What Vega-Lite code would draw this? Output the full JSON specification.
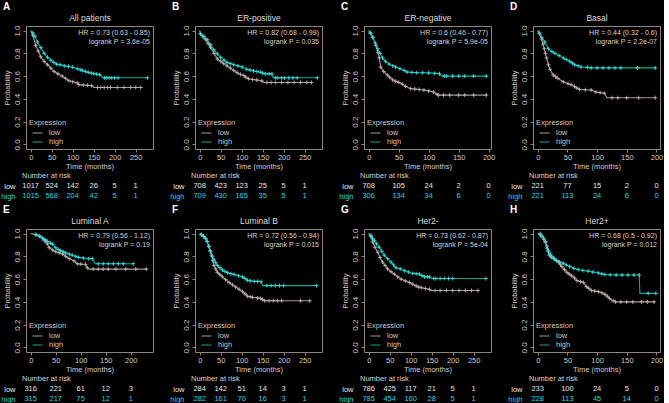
{
  "$schema": "https://vega.github.io/schema/vega-lite/v6.json",
  "background": "#000000",
  "padding": {"left": 0, "top": 1, "right": 0, "bottom": 0},
  "config": {
    "font": "Liberation Sans",
    "view": {"stroke": "#8f8580", "strokeWidth": 1},
    "axis": {"grid": false, "domain": false, "labelColor": "#cfc7c3", "titleColor": "#d4ccc8", "tickColor": "#8f8580", "labelFontSize": 7.5, "titleFontSize": 7.5, "titleFontWeight": "normal", "tickSize": 3, "labelOverlap": false, "labelFlush": false},
    "legend": {"titleFontSize": 7.5, "titleFontWeight": "normal", "titleColor": "#cdc5c1", "labelFontSize": 7.5, "labelColor": "#cdc5c1", "symbolSize": 100, "symbolStrokeWidth": 1, "rowPadding": -3, "titlePadding": 1, "offset": 3, "padding": 0, "labelOffset": 6, "symbolOffset": 3},
    "title": {"color": "#ffffff", "fontSize": 10, "fontWeight": "bold", "anchor": "start", "frame": "bounds", "offset": 1}
  },
  "datasets": {
    "stats": [
      {"p": "A", "stat": "HR = 0.73 (0.63 - 0.85)\nlogrank P = 3.6e-05"},
      {"p": "B", "stat": "HR = 0.82 (0.68 - 0.99)\nlogrank P = 0.035"},
      {"p": "C", "stat": "HR = 0.6 (0.46 - 0.77)\nlogrank P = 5.9e-05"},
      {"p": "D", "stat": "HR = 0.44 (0.32 - 0.6)\nlogrank P = 2.2e-07"},
      {"p": "E", "stat": "HR = 0.79 (0.56 - 1.12)\nlogrank P = 0.19"},
      {"p": "F", "stat": "HR = 0.72 (0.56 - 0.94)\nlogrank P = 0.015"},
      {"p": "G", "stat": "HR = 0.73 (0.62 - 0.87)\nlogrank P = 5e-04"},
      {"p": "H", "stat": "HR = 0.68 (0.5 - 0.92)\nlogrank P = 0.012"}
    ],
    "risk": [
      {"p": "A", "g": "low", "t": 0, "n": 1017}, {"p": "A", "g": "low", "t": 50, "n": 524}, {"p": "A", "g": "low", "t": 100, "n": 142}, {"p": "A", "g": "low", "t": 150, "n": 26}, {"p": "A", "g": "low", "t": 200, "n": 5}, {"p": "A", "g": "low", "t": 250, "n": 1},
      {"p": "A", "g": "high", "t": 0, "n": 1015}, {"p": "A", "g": "high", "t": 50, "n": 568}, {"p": "A", "g": "high", "t": 100, "n": 204}, {"p": "A", "g": "high", "t": 150, "n": 42}, {"p": "A", "g": "high", "t": 200, "n": 5}, {"p": "A", "g": "high", "t": 250, "n": 1},
      {"p": "B", "g": "low", "t": 0, "n": 708}, {"p": "B", "g": "low", "t": 50, "n": 423}, {"p": "B", "g": "low", "t": 100, "n": 123}, {"p": "B", "g": "low", "t": 150, "n": 25}, {"p": "B", "g": "low", "t": 200, "n": 5}, {"p": "B", "g": "low", "t": 250, "n": 1},
      {"p": "B", "g": "high", "t": 0, "n": 709}, {"p": "B", "g": "high", "t": 50, "n": 430}, {"p": "B", "g": "high", "t": 100, "n": 165}, {"p": "B", "g": "high", "t": 150, "n": 35}, {"p": "B", "g": "high", "t": 200, "n": 5}, {"p": "B", "g": "high", "t": 250, "n": 1},
      {"p": "C", "g": "low", "t": 0, "n": 708}, {"p": "C", "g": "low", "t": 50, "n": 105}, {"p": "C", "g": "low", "t": 100, "n": 24}, {"p": "C", "g": "low", "t": 150, "n": 2}, {"p": "C", "g": "low", "t": 200, "n": 0},
      {"p": "C", "g": "high", "t": 0, "n": 306}, {"p": "C", "g": "high", "t": 50, "n": 134}, {"p": "C", "g": "high", "t": 100, "n": 34}, {"p": "C", "g": "high", "t": 150, "n": 6}, {"p": "C", "g": "high", "t": 200, "n": 0},
      {"p": "D", "g": "low", "t": 0, "n": 221}, {"p": "D", "g": "low", "t": 50, "n": 77}, {"p": "D", "g": "low", "t": 100, "n": 15}, {"p": "D", "g": "low", "t": 150, "n": 2}, {"p": "D", "g": "low", "t": 200, "n": 0},
      {"p": "D", "g": "high", "t": 0, "n": 221}, {"p": "D", "g": "high", "t": 50, "n": 113}, {"p": "D", "g": "high", "t": 100, "n": 24}, {"p": "D", "g": "high", "t": 150, "n": 6}, {"p": "D", "g": "high", "t": 200, "n": 0},
      {"p": "E", "g": "low", "t": 0, "n": 316}, {"p": "E", "g": "low", "t": 50, "n": 221}, {"p": "E", "g": "low", "t": 100, "n": 61}, {"p": "E", "g": "low", "t": 150, "n": 12}, {"p": "E", "g": "low", "t": 200, "n": 3},
      {"p": "E", "g": "high", "t": 0, "n": 315}, {"p": "E", "g": "high", "t": 50, "n": 217}, {"p": "E", "g": "high", "t": 100, "n": 75}, {"p": "E", "g": "high", "t": 150, "n": 12}, {"p": "E", "g": "high", "t": 200, "n": 1},
      {"p": "F", "g": "low", "t": 0, "n": 284}, {"p": "F", "g": "low", "t": 50, "n": 142}, {"p": "F", "g": "low", "t": 100, "n": 51}, {"p": "F", "g": "low", "t": 150, "n": 14}, {"p": "F", "g": "low", "t": 200, "n": 3}, {"p": "F", "g": "low", "t": 250, "n": 1},
      {"p": "F", "g": "high", "t": 0, "n": 282}, {"p": "F", "g": "high", "t": 50, "n": 161}, {"p": "F", "g": "high", "t": 100, "n": 70}, {"p": "F", "g": "high", "t": 150, "n": 16}, {"p": "F", "g": "high", "t": 200, "n": 3}, {"p": "F", "g": "high", "t": 250, "n": 1},
      {"p": "G", "g": "low", "t": 0, "n": 786}, {"p": "G", "g": "low", "t": 50, "n": 425}, {"p": "G", "g": "low", "t": 100, "n": 117}, {"p": "G", "g": "low", "t": 150, "n": 21}, {"p": "G", "g": "low", "t": 200, "n": 5}, {"p": "G", "g": "low", "t": 250, "n": 1},
      {"p": "G", "g": "high", "t": 0, "n": 785}, {"p": "G", "g": "high", "t": 50, "n": 454}, {"p": "G", "g": "high", "t": 100, "n": 160}, {"p": "G", "g": "high", "t": 150, "n": 28}, {"p": "G", "g": "high", "t": 200, "n": 5}, {"p": "G", "g": "high", "t": 250, "n": 1},
      {"p": "H", "g": "low", "t": 0, "n": 233}, {"p": "H", "g": "low", "t": 50, "n": 100}, {"p": "H", "g": "low", "t": 100, "n": 24}, {"p": "H", "g": "low", "t": 150, "n": 5}, {"p": "H", "g": "low", "t": 200, "n": 0},
      {"p": "H", "g": "high", "t": 0, "n": 228}, {"p": "H", "g": "high", "t": 50, "n": 113}, {"p": "H", "g": "high", "t": 100, "n": 45}, {"p": "H", "g": "high", "t": 150, "n": 14}, {"p": "H", "g": "high", "t": 200, "n": 0}
    ],
    "km": [
      {"p":"A","g":"low","t":0,"s":1,"c":0},{"p":"A","g":"low","t":5,"s":0.96,"c":1},{"p":"A","g":"low","t":12,"s":0.87,"c":1},{"p":"A","g":"low","t":18,"s":0.82,"c":1},{"p":"A","g":"low","t":24,"s":0.77,"c":1},{"p":"A","g":"low","t":32,"s":0.73,"c":1},{"p":"A","g":"low","t":40,"s":0.7,"c":1},{"p":"A","g":"low","t":48,"s":0.67,"c":1},{"p":"A","g":"low","t":56,"s":0.64,"c":1},{"p":"A","g":"low","t":65,"s":0.62,"c":1},{"p":"A","g":"low","t":75,"s":0.6,"c":1},{"p":"A","g":"low","t":83,"s":0.58,"c":1},{"p":"A","g":"low","t":91,"s":0.56,"c":1},{"p":"A","g":"low","t":100,"s":0.55,"c":1},{"p":"A","g":"low","t":111,"s":0.54,"c":1},{"p":"A","g":"low","t":115,"s":0.525,"c":1},{"p":"A","g":"low","t":125,"s":0.522,"c":1},{"p":"A","g":"low","t":135,"s":0.52,"c":1},{"p":"A","g":"low","t":145,"s":0.516,"c":1},{"p":"A","g":"low","t":150,"s":0.5,"c":0},{"p":"A","g":"low","t":159,"s":0.5,"c":1},{"p":"A","g":"low","t":167,"s":0.5,"c":1},{"p":"A","g":"low","t":175,"s":0.5,"c":1},{"p":"A","g":"low","t":183,"s":0.5,"c":1},{"p":"A","g":"low","t":190,"s":0.5,"c":1},{"p":"A","g":"low","t":206,"s":0.5,"c":1},{"p":"A","g":"low","t":222,"s":0.5,"c":1},{"p":"A","g":"low","t":238,"s":0.5,"c":1},{"p":"A","g":"low","t":250,"s":0.5,"c":1},{"p":"A","g":"low","t":262,"s":0.5,"c":1},
      {"p":"A","g":"high","t":0,"s":1,"c":0},{"p":"A","g":"high","t":5,"s":0.98,"c":1},{"p":"A","g":"high","t":10,"s":0.95,"c":1},{"p":"A","g":"high","t":16,"s":0.9,"c":1},{"p":"A","g":"high","t":24,"s":0.85,"c":1},{"p":"A","g":"high","t":32,"s":0.8,"c":1},{"p":"A","g":"high","t":40,"s":0.765,"c":1},{"p":"A","g":"high","t":48,"s":0.74,"c":1},{"p":"A","g":"high","t":55,"s":0.72,"c":1},{"p":"A","g":"high","t":62,"s":0.705,"c":1},{"p":"A","g":"high","t":70,"s":0.7,"c":1},{"p":"A","g":"high","t":80,"s":0.69,"c":1},{"p":"A","g":"high","t":90,"s":0.685,"c":1},{"p":"A","g":"high","t":100,"s":0.678,"c":1},{"p":"A","g":"high","t":111,"s":0.665,"c":1},{"p":"A","g":"high","t":118,"s":0.655,"c":1},{"p":"A","g":"high","t":123,"s":0.65,"c":1},{"p":"A","g":"high","t":130,"s":0.64,"c":1},{"p":"A","g":"high","t":137,"s":0.633,"c":1},{"p":"A","g":"high","t":144,"s":0.627,"c":1},{"p":"A","g":"high","t":150,"s":0.622,"c":1},{"p":"A","g":"high","t":157,"s":0.618,"c":1},{"p":"A","g":"high","t":164,"s":0.612,"c":1},{"p":"A","g":"high","t":170,"s":0.6,"c":0},{"p":"A","g":"high","t":171,"s":0.585,"c":0},{"p":"A","g":"high","t":176,"s":0.585,"c":1},{"p":"A","g":"high","t":181,"s":0.585,"c":1},{"p":"A","g":"high","t":187,"s":0.585,"c":1},{"p":"A","g":"high","t":193,"s":0.585,"c":1},{"p":"A","g":"high","t":200,"s":0.585,"c":1},{"p":"A","g":"high","t":208,"s":0.585,"c":1},{"p":"A","g":"high","t":278,"s":0.585,"c":1},

      {"p":"B","g":"low","t":0,"s":1,"c":0},{"p":"B","g":"low","t":2,"s":0.97,"c":1},{"p":"B","g":"low","t":8,"s":0.945,"c":1},{"p":"B","g":"low","t":14,"s":0.92,"c":1},{"p":"B","g":"low","t":20,"s":0.885,"c":1},{"p":"B","g":"low","t":26,"s":0.85,"c":1},{"p":"B","g":"low","t":34,"s":0.8,"c":1},{"p":"B","g":"low","t":42,"s":0.75,"c":1},{"p":"B","g":"low","t":50,"s":0.73,"c":1},{"p":"B","g":"low","t":57,"s":0.71,"c":1},{"p":"B","g":"low","t":65,"s":0.69,"c":1},{"p":"B","g":"low","t":73,"s":0.67,"c":1},{"p":"B","g":"low","t":81,"s":0.65,"c":1},{"p":"B","g":"low","t":89,"s":0.63,"c":1},{"p":"B","g":"low","t":97,"s":0.615,"c":1},{"p":"B","g":"low","t":105,"s":0.605,"c":1},{"p":"B","g":"low","t":110,"s":0.59,"c":1},{"p":"B","g":"low","t":116,"s":0.577,"c":1},{"p":"B","g":"low","t":126,"s":0.57,"c":1},{"p":"B","g":"low","t":136,"s":0.566,"c":1},{"p":"B","g":"low","t":148,"s":0.558,"c":1},{"p":"B","g":"low","t":152,"s":0.544,"c":0},{"p":"B","g":"low","t":160,"s":0.544,"c":1},{"p":"B","g":"low","t":170,"s":0.544,"c":1},{"p":"B","g":"low","t":180,"s":0.544,"c":1},{"p":"B","g":"low","t":195,"s":0.544,"c":1},{"p":"B","g":"low","t":210,"s":0.544,"c":1},{"p":"B","g":"low","t":225,"s":0.544,"c":1},{"p":"B","g":"low","t":240,"s":0.544,"c":1},{"p":"B","g":"low","t":255,"s":0.544,"c":1},{"p":"B","g":"low","t":266,"s":0.544,"c":1},
      {"p":"B","g":"high","t":0,"s":1,"c":0},{"p":"B","g":"high","t":2,"s":0.97,"c":1},{"p":"B","g":"high","t":10,"s":0.95,"c":1},{"p":"B","g":"high","t":18,"s":0.92,"c":1},{"p":"B","g":"high","t":26,"s":0.875,"c":1},{"p":"B","g":"high","t":34,"s":0.83,"c":1},{"p":"B","g":"high","t":42,"s":0.795,"c":1},{"p":"B","g":"high","t":50,"s":0.765,"c":1},{"p":"B","g":"high","t":58,"s":0.74,"c":1},{"p":"B","g":"high","t":65,"s":0.72,"c":1},{"p":"B","g":"high","t":73,"s":0.71,"c":1},{"p":"B","g":"high","t":81,"s":0.7,"c":1},{"p":"B","g":"high","t":91,"s":0.69,"c":1},{"p":"B","g":"high","t":101,"s":0.68,"c":1},{"p":"B","g":"high","t":112,"s":0.66,"c":1},{"p":"B","g":"high","t":120,"s":0.653,"c":1},{"p":"B","g":"high","t":128,"s":0.646,"c":1},{"p":"B","g":"high","t":136,"s":0.64,"c":1},{"p":"B","g":"high","t":144,"s":0.635,"c":1},{"p":"B","g":"high","t":150,"s":0.628,"c":1},{"p":"B","g":"high","t":156,"s":0.62,"c":1},{"p":"B","g":"high","t":165,"s":0.62,"c":1},{"p":"B","g":"high","t":172,"s":0.62,"c":1},{"p":"B","g":"high","t":175,"s":0.585,"c":0},{"p":"B","g":"high","t":180,"s":0.585,"c":1},{"p":"B","g":"high","t":186,"s":0.585,"c":1},{"p":"B","g":"high","t":195,"s":0.585,"c":1},{"p":"B","g":"high","t":202,"s":0.585,"c":1},{"p":"B","g":"high","t":212,"s":0.585,"c":1},{"p":"B","g":"high","t":222,"s":0.585,"c":1},{"p":"B","g":"high","t":232,"s":0.585,"c":1},{"p":"B","g":"high","t":280,"s":0.585,"c":1},

      {"p":"C","g":"low","t":0,"s":1,"c":0},{"p":"C","g":"low","t":3,"s":0.975,"c":1},{"p":"C","g":"low","t":7,"s":0.94,"c":1},{"p":"C","g":"low","t":12,"s":0.87,"c":1},{"p":"C","g":"low","t":15,"s":0.81,"c":1},{"p":"C","g":"low","t":17.6,"s":0.76,"c":1},{"p":"C","g":"low","t":20,"s":0.68,"c":1},{"p":"C","g":"low","t":25,"s":0.64,"c":1},{"p":"C","g":"low","t":31,"s":0.61,"c":1},{"p":"C","g":"low","t":35,"s":0.59,"c":1},{"p":"C","g":"low","t":40,"s":0.567,"c":1},{"p":"C","g":"low","t":45,"s":0.555,"c":1},{"p":"C","g":"low","t":50,"s":0.545,"c":1},{"p":"C","g":"low","t":56,"s":0.53,"c":1},{"p":"C","g":"low","t":61.5,"s":0.51,"c":1},{"p":"C","g":"low","t":70,"s":0.49,"c":1},{"p":"C","g":"low","t":77,"s":0.487,"c":1},{"p":"C","g":"low","t":84,"s":0.483,"c":1},{"p":"C","g":"low","t":92,"s":0.478,"c":1},{"p":"C","g":"low","t":100,"s":0.47,"c":1},{"p":"C","g":"low","t":108,"s":0.46,"c":1},{"p":"C","g":"low","t":114,"s":0.44,"c":1},{"p":"C","g":"low","t":116.5,"s":0.433,"c":1},{"p":"C","g":"low","t":125,"s":0.433,"c":1},{"p":"C","g":"low","t":135,"s":0.433,"c":1},{"p":"C","g":"low","t":150,"s":0.433,"c":1},{"p":"C","g":"low","t":160,"s":0.433,"c":1},{"p":"C","g":"low","t":175,"s":0.433,"c":1},{"p":"C","g":"low","t":196,"s":0.433,"c":1},
      {"p":"C","g":"high","t":0,"s":1,"c":0},{"p":"C","g":"high","t":3,"s":0.98,"c":1},{"p":"C","g":"high","t":6.6,"s":0.94,"c":1},{"p":"C","g":"high","t":11,"s":0.89,"c":1},{"p":"C","g":"high","t":15,"s":0.84,"c":1},{"p":"C","g":"high","t":19,"s":0.8,"c":1},{"p":"C","g":"high","t":23,"s":0.76,"c":1},{"p":"C","g":"high","t":28,"s":0.73,"c":1},{"p":"C","g":"high","t":34,"s":0.705,"c":1},{"p":"C","g":"high","t":40,"s":0.69,"c":1},{"p":"C","g":"high","t":45,"s":0.68,"c":1},{"p":"C","g":"high","t":52,"s":0.665,"c":1},{"p":"C","g":"high","t":59,"s":0.65,"c":1},{"p":"C","g":"high","t":64,"s":0.636,"c":1},{"p":"C","g":"high","t":72,"s":0.633,"c":1},{"p":"C","g":"high","t":80,"s":0.63,"c":1},{"p":"C","g":"high","t":90,"s":0.63,"c":1},{"p":"C","g":"high","t":100,"s":0.628,"c":1},{"p":"C","g":"high","t":110,"s":0.625,"c":1},{"p":"C","g":"high","t":118,"s":0.62,"c":1},{"p":"C","g":"high","t":122,"s":0.6,"c":0},{"p":"C","g":"high","t":126,"s":0.6,"c":1},{"p":"C","g":"high","t":130,"s":0.6,"c":1},{"p":"C","g":"high","t":140,"s":0.6,"c":1},{"p":"C","g":"high","t":150,"s":0.6,"c":1},{"p":"C","g":"high","t":160,"s":0.6,"c":1},{"p":"C","g":"high","t":175,"s":0.6,"c":1},{"p":"C","g":"high","t":196,"s":0.6,"c":1},

      {"p":"D","g":"low","t":0,"s":1,"c":0},{"p":"D","g":"low","t":3,"s":0.97,"c":1},{"p":"D","g":"low","t":6.7,"s":0.925,"c":1},{"p":"D","g":"low","t":9,"s":0.88,"c":1},{"p":"D","g":"low","t":11,"s":0.84,"c":1},{"p":"D","g":"low","t":13,"s":0.8,"c":1},{"p":"D","g":"low","t":15,"s":0.76,"c":1},{"p":"D","g":"low","t":18,"s":0.7,"c":1},{"p":"D","g":"low","t":20.6,"s":0.66,"c":1},{"p":"D","g":"low","t":26,"s":0.61,"c":1},{"p":"D","g":"low","t":30,"s":0.595,"c":1},{"p":"D","g":"low","t":34,"s":0.58,"c":1},{"p":"D","g":"low","t":43,"s":0.55,"c":1},{"p":"D","g":"low","t":51,"s":0.533,"c":1},{"p":"D","g":"low","t":56,"s":0.525,"c":1},{"p":"D","g":"low","t":62,"s":0.51,"c":1},{"p":"D","g":"low","t":66,"s":0.495,"c":1},{"p":"D","g":"low","t":70.5,"s":0.483,"c":1},{"p":"D","g":"low","t":80,"s":0.48,"c":1},{"p":"D","g":"low","t":90,"s":0.478,"c":1},{"p":"D","g":"low","t":98,"s":0.46,"c":1},{"p":"D","g":"low","t":105,"s":0.455,"c":1},{"p":"D","g":"low","t":112,"s":0.45,"c":1},{"p":"D","g":"low","t":117,"s":0.41,"c":0},{"p":"D","g":"low","t":125,"s":0.41,"c":1},{"p":"D","g":"low","t":135,"s":0.41,"c":1},{"p":"D","g":"low","t":150,"s":0.41,"c":1},{"p":"D","g":"low","t":170,"s":0.41,"c":1},{"p":"D","g":"low","t":198,"s":0.41,"c":1},
      {"p":"D","g":"high","t":0,"s":1,"c":0},{"p":"D","g":"high","t":3,"s":0.98,"c":1},{"p":"D","g":"high","t":6.7,"s":0.94,"c":1},{"p":"D","g":"high","t":12,"s":0.9,"c":1},{"p":"D","g":"high","t":18,"s":0.84,"c":1},{"p":"D","g":"high","t":24,"s":0.815,"c":1},{"p":"D","g":"high","t":29,"s":0.8,"c":1},{"p":"D","g":"high","t":36,"s":0.78,"c":1},{"p":"D","g":"high","t":43,"s":0.76,"c":1},{"p":"D","g":"high","t":48,"s":0.745,"c":1},{"p":"D","g":"high","t":54,"s":0.73,"c":1},{"p":"D","g":"high","t":58,"s":0.715,"c":1},{"p":"D","g":"high","t":62,"s":0.7,"c":1},{"p":"D","g":"high","t":68,"s":0.69,"c":1},{"p":"D","g":"high","t":73,"s":0.68,"c":1},{"p":"D","g":"high","t":84,"s":0.677,"c":1},{"p":"D","g":"high","t":90,"s":0.672,"c":1},{"p":"D","g":"high","t":100,"s":0.672,"c":1},{"p":"D","g":"high","t":110,"s":0.672,"c":1},{"p":"D","g":"high","t":120,"s":0.672,"c":1},{"p":"D","g":"high","t":130,"s":0.672,"c":1},{"p":"D","g":"high","t":140,"s":0.672,"c":1},{"p":"D","g":"high","t":168,"s":0.672,"c":1},{"p":"D","g":"high","t":198,"s":0.672,"c":1},

      {"p":"E","g":"low","t":0,"s":1,"c":0},{"p":"E","g":"low","t":10,"s":0.99,"c":1},{"p":"E","g":"low","t":18,"s":0.98,"c":1},{"p":"E","g":"low","t":24,"s":0.955,"c":1},{"p":"E","g":"low","t":28,"s":0.935,"c":1},{"p":"E","g":"low","t":33,"s":0.91,"c":1},{"p":"E","g":"low","t":37,"s":0.876,"c":1},{"p":"E","g":"low","t":44,"s":0.855,"c":1},{"p":"E","g":"low","t":50,"s":0.84,"c":1},{"p":"E","g":"low","t":57,"s":0.83,"c":1},{"p":"E","g":"low","t":64,"s":0.82,"c":1},{"p":"E","g":"low","t":70,"s":0.8,"c":1},{"p":"E","g":"low","t":77,"s":0.78,"c":1},{"p":"E","g":"low","t":86.5,"s":0.76,"c":1},{"p":"E","g":"low","t":93,"s":0.735,"c":1},{"p":"E","g":"low","t":100,"s":0.732,"c":1},{"p":"E","g":"low","t":109.5,"s":0.73,"c":1},{"p":"E","g":"low","t":113,"s":0.7,"c":1},{"p":"E","g":"low","t":116,"s":0.688,"c":0},{"p":"E","g":"low","t":125,"s":0.688,"c":1},{"p":"E","g":"low","t":135,"s":0.688,"c":1},{"p":"E","g":"low","t":145,"s":0.688,"c":1},{"p":"E","g":"low","t":155,"s":0.688,"c":1},{"p":"E","g":"low","t":170,"s":0.688,"c":1},{"p":"E","g":"low","t":190,"s":0.688,"c":1},{"p":"E","g":"low","t":210,"s":0.688,"c":1},{"p":"E","g":"low","t":231,"s":0.688,"c":1},
      {"p":"E","g":"high","t":0,"s":1,"c":0},{"p":"E","g":"high","t":11,"s":0.99,"c":1},{"p":"E","g":"high","t":18,"s":0.975,"c":1},{"p":"E","g":"high","t":24,"s":0.96,"c":1},{"p":"E","g":"high","t":30,"s":0.945,"c":1},{"p":"E","g":"high","t":34,"s":0.93,"c":1},{"p":"E","g":"high","t":40,"s":0.915,"c":1},{"p":"E","g":"high","t":44,"s":0.906,"c":1},{"p":"E","g":"high","t":50,"s":0.876,"c":1},{"p":"E","g":"high","t":55,"s":0.86,"c":1},{"p":"E","g":"high","t":60,"s":0.85,"c":1},{"p":"E","g":"high","t":65,"s":0.84,"c":1},{"p":"E","g":"high","t":70,"s":0.83,"c":1},{"p":"E","g":"high","t":77,"s":0.82,"c":1},{"p":"E","g":"high","t":83,"s":0.81,"c":1},{"p":"E","g":"high","t":90,"s":0.8,"c":1},{"p":"E","g":"high","t":96,"s":0.79,"c":1},{"p":"E","g":"high","t":105,"s":0.785,"c":1},{"p":"E","g":"high","t":116,"s":0.78,"c":1},{"p":"E","g":"high","t":123,"s":0.78,"c":1},{"p":"E","g":"high","t":129,"s":0.735,"c":0},{"p":"E","g":"high","t":135,"s":0.735,"c":1},{"p":"E","g":"high","t":145,"s":0.735,"c":1},{"p":"E","g":"high","t":155,"s":0.735,"c":1},{"p":"E","g":"high","t":165,"s":0.735,"c":1},{"p":"E","g":"high","t":175,"s":0.735,"c":1},{"p":"E","g":"high","t":185,"s":0.735,"c":1},{"p":"E","g":"high","t":205,"s":0.735,"c":1},

      {"p":"F","g":"low","t":0,"s":1,"c":0},{"p":"F","g":"low","t":4,"s":0.99,"c":1},{"p":"F","g":"low","t":9,"s":0.975,"c":1},{"p":"F","g":"low","t":14,"s":0.96,"c":1},{"p":"F","g":"low","t":18,"s":0.93,"c":1},{"p":"F","g":"low","t":22,"s":0.89,"c":1},{"p":"F","g":"low","t":25,"s":0.85,"c":1},{"p":"F","g":"low","t":28,"s":0.81,"c":1},{"p":"F","g":"low","t":31,"s":0.765,"c":1},{"p":"F","g":"low","t":34,"s":0.72,"c":1},{"p":"F","g":"low","t":38,"s":0.69,"c":1},{"p":"F","g":"low","t":42,"s":0.66,"c":1},{"p":"F","g":"low","t":48,"s":0.64,"c":1},{"p":"F","g":"low","t":54,"s":0.62,"c":1},{"p":"F","g":"low","t":62,"s":0.595,"c":1},{"p":"F","g":"low","t":70,"s":0.57,"c":1},{"p":"F","g":"low","t":78,"s":0.55,"c":1},{"p":"F","g":"low","t":86,"s":0.53,"c":1},{"p":"F","g":"low","t":94,"s":0.51,"c":1},{"p":"F","g":"low","t":102,"s":0.49,"c":1},{"p":"F","g":"low","t":108,"s":0.47,"c":1},{"p":"F","g":"low","t":114,"s":0.45,"c":1},{"p":"F","g":"low","t":120,"s":0.445,"c":1},{"p":"F","g":"low","t":126,"s":0.44,"c":1},{"p":"F","g":"low","t":138,"s":0.435,"c":1},{"p":"F","g":"low","t":145,"s":0.43,"c":1},{"p":"F","g":"low","t":150,"s":0.42,"c":1},{"p":"F","g":"low","t":155,"s":0.41,"c":1},{"p":"F","g":"low","t":165,"s":0.41,"c":1},{"p":"F","g":"low","t":175,"s":0.41,"c":1},{"p":"F","g":"low","t":185,"s":0.41,"c":1},{"p":"F","g":"low","t":195,"s":0.41,"c":1},{"p":"F","g":"low","t":240,"s":0.41,"c":1},{"p":"F","g":"low","t":262,"s":0.41,"c":1},
      {"p":"F","g":"high","t":0,"s":1,"c":0},{"p":"F","g":"high","t":4,"s":0.99,"c":1},{"p":"F","g":"high","t":10,"s":0.976,"c":1},{"p":"F","g":"high","t":14,"s":0.955,"c":1},{"p":"F","g":"high","t":18,"s":0.93,"c":1},{"p":"F","g":"high","t":22,"s":0.885,"c":1},{"p":"F","g":"high","t":26,"s":0.84,"c":1},{"p":"F","g":"high","t":30,"s":0.8,"c":1},{"p":"F","g":"high","t":34,"s":0.77,"c":1},{"p":"F","g":"high","t":38,"s":0.745,"c":1},{"p":"F","g":"high","t":42,"s":0.72,"c":1},{"p":"F","g":"high","t":48,"s":0.7,"c":1},{"p":"F","g":"high","t":54,"s":0.68,"c":1},{"p":"F","g":"high","t":60,"s":0.668,"c":1},{"p":"F","g":"high","t":66,"s":0.657,"c":1},{"p":"F","g":"high","t":74,"s":0.648,"c":1},{"p":"F","g":"high","t":82,"s":0.64,"c":1},{"p":"F","g":"high","t":92,"s":0.63,"c":1},{"p":"F","g":"high","t":102,"s":0.62,"c":1},{"p":"F","g":"high","t":108,"s":0.605,"c":1},{"p":"F","g":"high","t":114,"s":0.59,"c":1},{"p":"F","g":"high","t":120,"s":0.585,"c":1},{"p":"F","g":"high","t":130,"s":0.58,"c":1},{"p":"F","g":"high","t":138,"s":0.58,"c":1},{"p":"F","g":"high","t":146,"s":0.578,"c":1},{"p":"F","g":"high","t":150,"s":0.543,"c":0},{"p":"F","g":"high","t":160,"s":0.543,"c":1},{"p":"F","g":"high","t":170,"s":0.543,"c":1},{"p":"F","g":"high","t":180,"s":0.543,"c":1},{"p":"F","g":"high","t":190,"s":0.543,"c":1},{"p":"F","g":"high","t":200,"s":0.543,"c":1},{"p":"F","g":"high","t":278,"s":0.543,"c":1},

      {"p":"G","g":"low","t":0,"s":1,"c":0},{"p":"G","g":"low","t":5,"s":0.975,"c":1},{"p":"G","g":"low","t":9.5,"s":0.926,"c":1},{"p":"G","g":"low","t":15,"s":0.88,"c":1},{"p":"G","g":"low","t":21.5,"s":0.837,"c":1},{"p":"G","g":"low","t":27,"s":0.79,"c":1},{"p":"G","g":"low","t":33,"s":0.75,"c":1},{"p":"G","g":"low","t":39,"s":0.72,"c":1},{"p":"G","g":"low","t":45,"s":0.69,"c":1},{"p":"G","g":"low","t":53,"s":0.665,"c":1},{"p":"G","g":"low","t":61,"s":0.644,"c":1},{"p":"G","g":"low","t":69,"s":0.62,"c":1},{"p":"G","g":"low","t":77,"s":0.6,"c":1},{"p":"G","g":"low","t":87,"s":0.585,"c":1},{"p":"G","g":"low","t":97,"s":0.57,"c":1},{"p":"G","g":"low","t":105,"s":0.555,"c":1},{"p":"G","g":"low","t":113,"s":0.54,"c":1},{"p":"G","g":"low","t":119,"s":0.53,"c":1},{"p":"G","g":"low","t":125,"s":0.525,"c":1},{"p":"G","g":"low","t":135,"s":0.517,"c":1},{"p":"G","g":"low","t":145,"s":0.51,"c":1},{"p":"G","g":"low","t":149,"s":0.5,"c":0},{"p":"G","g":"low","t":158,"s":0.5,"c":1},{"p":"G","g":"low","t":170,"s":0.5,"c":1},{"p":"G","g":"low","t":185,"s":0.5,"c":1},{"p":"G","g":"low","t":200,"s":0.5,"c":1},{"p":"G","g":"low","t":215,"s":0.5,"c":1},{"p":"G","g":"low","t":230,"s":0.5,"c":1},{"p":"G","g":"low","t":245,"s":0.5,"c":1},{"p":"G","g":"low","t":260,"s":0.5,"c":1},
      {"p":"G","g":"high","t":0,"s":1,"c":0},{"p":"G","g":"high","t":5,"s":0.985,"c":1},{"p":"G","g":"high","t":9,"s":0.96,"c":1},{"p":"G","g":"high","t":13.5,"s":0.94,"c":1},{"p":"G","g":"high","t":19,"s":0.91,"c":1},{"p":"G","g":"high","t":25,"s":0.88,"c":1},{"p":"G","g":"high","t":31,"s":0.845,"c":1},{"p":"G","g":"high","t":37,"s":0.81,"c":1},{"p":"G","g":"high","t":45,"s":0.78,"c":1},{"p":"G","g":"high","t":53,"s":0.75,"c":1},{"p":"G","g":"high","t":59,"s":0.725,"c":1},{"p":"G","g":"high","t":65,"s":0.7,"c":1},{"p":"G","g":"high","t":75,"s":0.69,"c":1},{"p":"G","g":"high","t":85,"s":0.674,"c":1},{"p":"G","g":"high","t":95,"s":0.662,"c":1},{"p":"G","g":"high","t":105,"s":0.65,"c":1},{"p":"G","g":"high","t":113,"s":0.647,"c":1},{"p":"G","g":"high","t":121,"s":0.644,"c":1},{"p":"G","g":"high","t":127,"s":0.63,"c":1},{"p":"G","g":"high","t":133,"s":0.62,"c":1},{"p":"G","g":"high","t":140,"s":0.62,"c":1},{"p":"G","g":"high","t":145,"s":0.62,"c":1},{"p":"G","g":"high","t":149,"s":0.605,"c":0},{"p":"G","g":"high","t":155,"s":0.605,"c":1},{"p":"G","g":"high","t":160,"s":0.605,"c":1},{"p":"G","g":"high","t":170,"s":0.605,"c":1},{"p":"G","g":"high","t":180,"s":0.605,"c":1},{"p":"G","g":"high","t":190,"s":0.605,"c":1},{"p":"G","g":"high","t":200,"s":0.605,"c":1},{"p":"G","g":"high","t":279,"s":0.605,"c":1},

      {"p":"H","g":"low","t":0,"s":1,"c":0},{"p":"H","g":"low","t":5,"s":0.98,"c":1},{"p":"H","g":"low","t":10,"s":0.96,"c":1},{"p":"H","g":"low","t":13,"s":0.93,"c":1},{"p":"H","g":"low","t":15.5,"s":0.89,"c":1},{"p":"H","g":"low","t":17.5,"s":0.85,"c":1},{"p":"H","g":"low","t":19.5,"s":0.81,"c":1},{"p":"H","g":"low","t":23,"s":0.79,"c":1},{"p":"H","g":"low","t":27,"s":0.78,"c":1},{"p":"H","g":"low","t":31,"s":0.765,"c":1},{"p":"H","g":"low","t":35,"s":0.75,"c":1},{"p":"H","g":"low","t":38,"s":0.73,"c":1},{"p":"H","g":"low","t":40.6,"s":0.71,"c":1},{"p":"H","g":"low","t":45,"s":0.685,"c":1},{"p":"H","g":"low","t":49,"s":0.66,"c":1},{"p":"H","g":"low","t":53,"s":0.645,"c":1},{"p":"H","g":"low","t":57,"s":0.63,"c":1},{"p":"H","g":"low","t":62,"s":0.61,"c":1},{"p":"H","g":"low","t":66,"s":0.587,"c":1},{"p":"H","g":"low","t":72,"s":0.578,"c":1},{"p":"H","g":"low","t":77,"s":0.57,"c":1},{"p":"H","g":"low","t":82,"s":0.533,"c":1},{"p":"H","g":"low","t":86,"s":0.52,"c":1},{"p":"H","g":"low","t":90.5,"s":0.5,"c":1},{"p":"H","g":"low","t":96,"s":0.495,"c":1},{"p":"H","g":"low","t":102,"s":0.49,"c":1},{"p":"H","g":"low","t":108,"s":0.48,"c":1},{"p":"H","g":"low","t":113,"s":0.467,"c":1},{"p":"H","g":"low","t":117,"s":0.45,"c":1},{"p":"H","g":"low","t":121,"s":0.43,"c":1},{"p":"H","g":"low","t":127,"s":0.41,"c":1},{"p":"H","g":"low","t":131,"s":0.4,"c":1},{"p":"H","g":"low","t":140,"s":0.4,"c":1},{"p":"H","g":"low","t":150,"s":0.4,"c":1},{"p":"H","g":"low","t":160,"s":0.4,"c":1},{"p":"H","g":"low","t":175,"s":0.4,"c":1},{"p":"H","g":"low","t":185,"s":0.4,"c":1},{"p":"H","g":"low","t":196,"s":0.4,"c":1},
      {"p":"H","g":"high","t":0,"s":1,"c":0},{"p":"H","g":"high","t":4,"s":1,"c":1},{"p":"H","g":"high","t":7,"s":0.98,"c":1},{"p":"H","g":"high","t":10,"s":0.95,"c":1},{"p":"H","g":"high","t":13,"s":0.92,"c":1},{"p":"H","g":"high","t":16,"s":0.87,"c":1},{"p":"H","g":"high","t":18,"s":0.84,"c":1},{"p":"H","g":"high","t":21,"s":0.82,"c":1},{"p":"H","g":"high","t":24,"s":0.8,"c":1},{"p":"H","g":"high","t":28,"s":0.78,"c":1},{"p":"H","g":"high","t":32,"s":0.76,"c":1},{"p":"H","g":"high","t":37,"s":0.75,"c":1},{"p":"H","g":"high","t":43,"s":0.74,"c":1},{"p":"H","g":"high","t":48,"s":0.725,"c":1},{"p":"H","g":"high","t":54,"s":0.71,"c":1},{"p":"H","g":"high","t":61,"s":0.695,"c":1},{"p":"H","g":"high","t":68,"s":0.684,"c":1},{"p":"H","g":"high","t":76,"s":0.676,"c":1},{"p":"H","g":"high","t":85,"s":0.67,"c":1},{"p":"H","g":"high","t":93,"s":0.662,"c":1},{"p":"H","g":"high","t":102,"s":0.654,"c":1},{"p":"H","g":"high","t":108,"s":0.646,"c":1},{"p":"H","g":"high","t":113,"s":0.64,"c":1},{"p":"H","g":"high","t":122,"s":0.638,"c":1},{"p":"H","g":"high","t":132,"s":0.636,"c":1},{"p":"H","g":"high","t":142,"s":0.636,"c":1},{"p":"H","g":"high","t":152,"s":0.636,"c":1},{"p":"H","g":"high","t":162,"s":0.636,"c":1},{"p":"H","g":"high","t":171,"s":0.636,"c":1},{"p":"H","g":"high","t":172,"s":0.475,"c":0},{"p":"H","g":"high","t":186,"s":0.475,"c":1},{"p":"H","g":"high","t":199,"s":0.475,"c":1}
    ]
  },
  "columns": 4,
  "spacing": {"row": 30, "column": 42},
  "bounds": "flush",
  "resolve": {"scale": {"color": "independent"}},
  "concat": [
    {
      "width": 127, "height": 123, "title": {"text": "A"},
      "data": {"name": "km"}, "transform": [{"filter": "datum.p === 'A'"}],
      "resolve": {"axis": {"x": "independent"}},
      "layer": [
        {"mark": {"type": "line", "strokeWidth": 1.1},
         "encoding": {
           "x": {"field": "t", "type": "quantitative", "title": "Time (months)", "scale": {"domain": [-11.2, 291.2], "nice": false, "zero": false}, "axis": {"values": [0, 50, 100, 150, 200, 250], "labelPadding": 1, "titlePadding": 2, "labelOverlap": false}},
           "y": {"field": "s", "type": "quantitative", "title": "Probability", "scale": {"domain": [-0.04, 1.04], "nice": false, "zero": false}, "axis": {"values": [0, 0.2, 0.4, 0.6, 0.8, 1], "format": ".1f", "labelAngle": -90, "labelPadding": 2, "titlePadding": 2, "labelOverlap": false, "labelFontSize": 8}},
           "color": {"field": "g", "type": "nominal", "scale": {"domain": ["low", "high"], "range": ["#a59795", "#14a98c"]}, "legend": {"title": "Expression", "orient": "bottom-left"}}}},
        {"transform": [{"filter": "datum.c === 1"}],
         "mark": {"type": "point", "shape": "M-1,0L1,0M0,-1L0,1", "size": 16, "strokeWidth": 0.9, "filled": false, "opacity": 1},
         "encoding": {
           "x": {"field": "t", "type": "quantitative", "axis": null},
           "y": {"field": "s", "type": "quantitative", "title": "Probability", "axis": {"values": [0, 0.2, 0.4, 0.6, 0.8, 1], "format": ".1f", "labelAngle": -90, "labelPadding": 2, "titlePadding": 2, "labelOverlap": false, "labelFontSize": 8}},
           "color": {"condition": {"test": "datum.g === 'high'", "value": "#38e3e3"}, "value": "#c2b1af"}}},
        {"data": {"name": "stats"}, "transform": [{"filter": "datum.p === 'A'"}],
         "mark": {"type": "text", "align": "right", "baseline": "top", "dx": -3, "dy": 3, "fontSize": 7, "lineHeight": 9, "lineBreak": "\n", "color": "#d8d2ce"},
         "encoding": {
           "x": {"datum": 291.2, "type": "quantitative", "axis": {"orient": "top", "title": "All patients", "labels": false, "ticks": false, "titleFontSize": 8.5, "titleColor": "#dcdcdc", "titlePadding": 4}},
           "y": {"datum": 1.04, "type": "quantitative", "title": "Probability", "axis": {"values": [0, 0.2, 0.4, 0.6, 0.8, 1], "format": ".1f", "labelAngle": -90, "labelPadding": 2, "titlePadding": 2, "labelOverlap": false, "labelFontSize": 8}},
           "text": {"field": "stat"}}}
      ]
    },
    {
      "width": 127, "height": 123, "title": {"text": "B"},
      "data": {"name": "km"}, "transform": [{"filter": "datum.p === 'B'"}],
      "resolve": {"axis": {"x": "independent"}},
      "layer": [
        {"mark": {"type": "line", "strokeWidth": 1.1},
         "encoding": {
           "x": {"field": "t", "type": "quantitative", "title": "Time (months)", "scale": {"domain": [-11.2, 291.2], "nice": false, "zero": false}, "axis": {"values": [0, 50, 100, 150, 200, 250], "labelPadding": 1, "titlePadding": 2, "labelOverlap": false}},
           "y": {"field": "s", "type": "quantitative", "title": "Probability", "scale": {"domain": [-0.04, 1.04], "nice": false, "zero": false}, "axis": {"values": [0, 0.2, 0.4, 0.6, 0.8, 1], "format": ".1f", "labelAngle": -90, "labelPadding": 2, "titlePadding": 2, "labelOverlap": false, "labelFontSize": 8}},
           "color": {"field": "g", "type": "nominal", "scale": {"domain": ["low", "high"], "range": ["#a59795", "#14a98c"]}, "legend": {"title": "Expression", "orient": "bottom-left"}}}},
        {"transform": [{"filter": "datum.c === 1"}],
         "mark": {"type": "point", "shape": "M-1,0L1,0M0,-1L0,1", "size": 16, "strokeWidth": 0.9, "filled": false, "opacity": 1},
         "encoding": {
           "x": {"field": "t", "type": "quantitative", "axis": null},
           "y": {"field": "s", "type": "quantitative", "title": "Probability", "axis": {"values": [0, 0.2, 0.4, 0.6, 0.8, 1], "format": ".1f", "labelAngle": -90, "labelPadding": 2, "titlePadding": 2, "labelOverlap": false, "labelFontSize": 8}},
           "color": {"condition": {"test": "datum.g === 'high'", "value": "#38e3e3"}, "value": "#c2b1af"}}},
        {"data": {"name": "stats"}, "transform": [{"filter": "datum.p === 'B'"}],
         "mark": {"type": "text", "align": "right", "baseline": "top", "dx": -3, "dy": 3, "fontSize": 7, "lineHeight": 9, "lineBreak": "\n", "color": "#d8d2ce"},
         "encoding": {
           "x": {"datum": 291.2, "type": "quantitative", "axis": {"orient": "top", "title": "ER-positive", "labels": false, "ticks": false, "titleFontSize": 8.5, "titleColor": "#dcdcdc", "titlePadding": 4}},
           "y": {"datum": 1.04, "type": "quantitative", "title": "Probability", "axis": {"values": [0, 0.2, 0.4, 0.6, 0.8, 1], "format": ".1f", "labelAngle": -90, "labelPadding": 2, "titlePadding": 2, "labelOverlap": false, "labelFontSize": 8}},
           "text": {"field": "stat"}}}
      ]
    },
    {
      "width": 127, "height": 123, "title": {"text": "C"},
      "data": {"name": "km"}, "transform": [{"filter": "datum.p === 'C'"}],
      "resolve": {"axis": {"x": "independent"}},
      "layer": [
        {"mark": {"type": "line", "strokeWidth": 1.1},
         "encoding": {
           "x": {"field": "t", "type": "quantitative", "title": "Time (months)", "scale": {"domain": [-7.84, 203.84], "nice": false, "zero": false}, "axis": {"values": [0, 50, 100, 150, 200], "labelPadding": 1, "titlePadding": 2, "labelOverlap": false}},
           "y": {"field": "s", "type": "quantitative", "title": "Probability", "scale": {"domain": [-0.04, 1.04], "nice": false, "zero": false}, "axis": {"values": [0, 0.2, 0.4, 0.6, 0.8, 1], "format": ".1f", "labelAngle": -90, "labelPadding": 2, "titlePadding": 2, "labelOverlap": false, "labelFontSize": 8}},
           "color": {"field": "g", "type": "nominal", "scale": {"domain": ["low", "high"], "range": ["#a59795", "#14a98c"]}, "legend": {"title": "Expression", "orient": "bottom-left"}}}},
        {"transform": [{"filter": "datum.c === 1"}],
         "mark": {"type": "point", "shape": "M-1,0L1,0M0,-1L0,1", "size": 16, "strokeWidth": 0.9, "filled": false, "opacity": 1},
         "encoding": {
           "x": {"field": "t", "type": "quantitative", "axis": null},
           "y": {"field": "s", "type": "quantitative", "title": "Probability", "axis": {"values": [0, 0.2, 0.4, 0.6, 0.8, 1], "format": ".1f", "labelAngle": -90, "labelPadding": 2, "titlePadding": 2, "labelOverlap": false, "labelFontSize": 8}},
           "color": {"condition": {"test": "datum.g === 'high'", "value": "#38e3e3"}, "value": "#c2b1af"}}},
        {"data": {"name": "stats"}, "transform": [{"filter": "datum.p === 'C'"}],
         "mark": {"type": "text", "align": "right", "baseline": "top", "dx": -3, "dy": 3, "fontSize": 7, "lineHeight": 9, "lineBreak": "\n", "color": "#d8d2ce"},
         "encoding": {
           "x": {"datum": 203.84, "type": "quantitative", "axis": {"orient": "top", "title": "ER-negative", "labels": false, "ticks": false, "titleFontSize": 8.5, "titleColor": "#dcdcdc", "titlePadding": 4}},
           "y": {"datum": 1.04, "type": "quantitative", "title": "Probability", "axis": {"values": [0, 0.2, 0.4, 0.6, 0.8, 1], "format": ".1f", "labelAngle": -90, "labelPadding": 2, "titlePadding": 2, "labelOverlap": false, "labelFontSize": 8}},
           "text": {"field": "stat"}}}
      ]
    },
    {
      "width": 127, "height": 123, "title": {"text": "D"},
      "data": {"name": "km"}, "transform": [{"filter": "datum.p === 'D'"}],
      "resolve": {"axis": {"x": "independent"}},
      "layer": [
        {"mark": {"type": "line", "strokeWidth": 1.1},
         "encoding": {
           "x": {"field": "t", "type": "quantitative", "title": "Time (months)", "scale": {"domain": [-7.92, 205.92], "nice": false, "zero": false}, "axis": {"values": [0, 50, 100, 150, 200], "labelPadding": 1, "titlePadding": 2, "labelOverlap": false}},
           "y": {"field": "s", "type": "quantitative", "title": "Probability", "scale": {"domain": [-0.04, 1.04], "nice": false, "zero": false}, "axis": {"values": [0, 0.2, 0.4, 0.6, 0.8, 1], "format": ".1f", "labelAngle": -90, "labelPadding": 2, "titlePadding": 2, "labelOverlap": false, "labelFontSize": 8}},
           "color": {"field": "g", "type": "nominal", "scale": {"domain": ["low", "high"], "range": ["#a59795", "#14a98c"]}, "legend": {"title": "Expression", "orient": "bottom-left"}}}},
        {"transform": [{"filter": "datum.c === 1"}],
         "mark": {"type": "point", "shape": "M-1,0L1,0M0,-1L0,1", "size": 16, "strokeWidth": 0.9, "filled": false, "opacity": 1},
         "encoding": {
           "x": {"field": "t", "type": "quantitative", "axis": null},
           "y": {"field": "s", "type": "quantitative", "title": "Probability", "axis": {"values": [0, 0.2, 0.4, 0.6, 0.8, 1], "format": ".1f", "labelAngle": -90, "labelPadding": 2, "titlePadding": 2, "labelOverlap": false, "labelFontSize": 8}},
           "color": {"condition": {"test": "datum.g === 'high'", "value": "#38e3e3"}, "value": "#c2b1af"}}},
        {"data": {"name": "stats"}, "transform": [{"filter": "datum.p === 'D'"}],
         "mark": {"type": "text", "align": "right", "baseline": "top", "dx": -3, "dy": 3, "fontSize": 7, "lineHeight": 9, "lineBreak": "\n", "color": "#d8d2ce"},
         "encoding": {
           "x": {"datum": 205.92, "type": "quantitative", "axis": {"orient": "top", "title": "Basal", "labels": false, "ticks": false, "titleFontSize": 8.5, "titleColor": "#dcdcdc", "titlePadding": 4}},
           "y": {"datum": 1.04, "type": "quantitative", "title": "Probability", "axis": {"values": [0, 0.2, 0.4, 0.6, 0.8, 1], "format": ".1f", "labelAngle": -90, "labelPadding": 2, "titlePadding": 2, "labelOverlap": false, "labelFontSize": 8}},
           "text": {"field": "stat"}}}
      ]
    },
    {
      "width": 127, "height": 20, "view": {"stroke": null},
      "title": {"text": "Number at risk", "frame": "group", "dx": -4, "fontSize": 7.5, "fontWeight": "normal", "color": "#d8d2ce", "offset": 0},
      "data": {"name": "risk"}, "transform": [{"filter": "datum.p === 'A'"}],
      "mark": {"type": "text", "fontSize": 7.5, "dy": 2},
      "encoding": {
        "x": {"field": "t", "type": "quantitative", "scale": {"domain": [-11.2, 291.2], "nice": false, "zero": false}, "axis": null},
        "y": {"field": "g", "type": "nominal", "scale": {"domain": ["low", "high"]}, "axis": {"title": null, "ticks": false, "tickSize": 0, "labelPadding": 11, "labelOffset": 2, "labelFontSize": 7.5, "labelColor": {"condition": {"test": "datum.value === 'high'", "value": "#27d3e3"}, "value": "#e6e6e6"}}},
        "text": {"field": "n", "type": "quantitative", "format": "d"},
        "color": {"condition": {"test": "datum.g === 'high'", "value": "#27d3e3"}, "value": "#e6e6e6"}}
    },
    {
      "width": 127, "height": 20, "view": {"stroke": null},
      "title": {"text": "Number at risk", "frame": "group", "dx": -4, "fontSize": 7.5, "fontWeight": "normal", "color": "#d8d2ce", "offset": 0},
      "data": {"name": "risk"}, "transform": [{"filter": "datum.p === 'B'"}],
      "mark": {"type": "text", "fontSize": 7.5, "dy": 2},
      "encoding": {
        "x": {"field": "t", "type": "quantitative", "scale": {"domain": [-11.2, 291.2], "nice": false, "zero": false}, "axis": null},
        "y": {"field": "g", "type": "nominal", "scale": {"domain": ["low", "high"]}, "axis": {"title": null, "ticks": false, "tickSize": 0, "labelPadding": 11, "labelOffset": 2, "labelFontSize": 7.5, "labelColor": {"condition": {"test": "datum.value === 'high'", "value": "#27d3e3"}, "value": "#e6e6e6"}}},
        "text": {"field": "n", "type": "quantitative", "format": "d"},
        "color": {"condition": {"test": "datum.g === 'high'", "value": "#27d3e3"}, "value": "#e6e6e6"}}
    },
    {
      "width": 127, "height": 20, "view": {"stroke": null},
      "title": {"text": "Number at risk", "frame": "group", "dx": -4, "fontSize": 7.5, "fontWeight": "normal", "color": "#d8d2ce", "offset": 0},
      "data": {"name": "risk"}, "transform": [{"filter": "datum.p === 'C'"}],
      "mark": {"type": "text", "fontSize": 7.5, "dy": 2},
      "encoding": {
        "x": {"field": "t", "type": "quantitative", "scale": {"domain": [-7.84, 203.84], "nice": false, "zero": false}, "axis": null},
        "y": {"field": "g", "type": "nominal", "scale": {"domain": ["low", "high"]}, "axis": {"title": null, "ticks": false, "tickSize": 0, "labelPadding": 11, "labelOffset": 2, "labelFontSize": 7.5, "labelColor": {"condition": {"test": "datum.value === 'high'", "value": "#27d3e3"}, "value": "#e6e6e6"}}},
        "text": {"field": "n", "type": "quantitative", "format": "d"},
        "color": {"condition": {"test": "datum.g === 'high'", "value": "#27d3e3"}, "value": "#e6e6e6"}}
    },
    {
      "width": 127, "height": 20, "view": {"stroke": null},
      "title": {"text": "Number at risk", "frame": "group", "dx": -4, "fontSize": 7.5, "fontWeight": "normal", "color": "#d8d2ce", "offset": 0},
      "data": {"name": "risk"}, "transform": [{"filter": "datum.p === 'D'"}],
      "mark": {"type": "text", "fontSize": 7.5, "dy": 2},
      "encoding": {
        "x": {"field": "t", "type": "quantitative", "scale": {"domain": [-7.92, 205.92], "nice": false, "zero": false}, "axis": null},
        "y": {"field": "g", "type": "nominal", "scale": {"domain": ["low", "high"]}, "axis": {"title": null, "ticks": false, "tickSize": 0, "labelPadding": 11, "labelOffset": 2, "labelFontSize": 7.5, "labelColor": {"condition": {"test": "datum.value === 'high'", "value": "#27d3e3"}, "value": "#e6e6e6"}}},
        "text": {"field": "n", "type": "quantitative", "format": "d"},
        "color": {"condition": {"test": "datum.g === 'high'", "value": "#27d3e3"}, "value": "#e6e6e6"}}
    },
    {
      "width": 127, "height": 123, "title": {"text": "E"},
      "data": {"name": "km"}, "transform": [{"filter": "datum.p === 'E'"}],
      "resolve": {"axis": {"x": "independent"}},
      "layer": [
        {"mark": {"type": "line", "strokeWidth": 1.1},
         "encoding": {
           "x": {"field": "t", "type": "quantitative", "title": "Time (months)", "scale": {"domain": [-9.4, 244.4], "nice": false, "zero": false}, "axis": {"values": [0, 50, 100, 150, 200], "labelPadding": 1, "titlePadding": 2, "labelOverlap": false}},
           "y": {"field": "s", "type": "quantitative", "title": "Probability", "scale": {"domain": [-0.04, 1.04], "nice": false, "zero": false}, "axis": {"values": [0, 0.2, 0.4, 0.6, 0.8, 1], "format": ".1f", "labelAngle": -90, "labelPadding": 2, "titlePadding": 2, "labelOverlap": false, "labelFontSize": 8}},
           "color": {"field": "g", "type": "nominal", "scale": {"domain": ["low", "high"], "range": ["#a59795", "#14a98c"]}, "legend": {"title": "Expression", "orient": "bottom-left"}}}},
        {"transform": [{"filter": "datum.c === 1"}],
         "mark": {"type": "point", "shape": "M-1,0L1,0M0,-1L0,1", "size": 16, "strokeWidth": 0.9, "filled": false, "opacity": 1},
         "encoding": {
           "x": {"field": "t", "type": "quantitative", "axis": null},
           "y": {"field": "s", "type": "quantitative", "title": "Probability", "axis": {"values": [0, 0.2, 0.4, 0.6, 0.8, 1], "format": ".1f", "labelAngle": -90, "labelPadding": 2, "titlePadding": 2, "labelOverlap": false, "labelFontSize": 8}},
           "color": {"condition": {"test": "datum.g === 'high'", "value": "#38e3e3"}, "value": "#c2b1af"}}},
        {"data": {"name": "stats"}, "transform": [{"filter": "datum.p === 'E'"}],
         "mark": {"type": "text", "align": "right", "baseline": "top", "dx": -3, "dy": 3, "fontSize": 7, "lineHeight": 9, "lineBreak": "\n", "color": "#d8d2ce"},
         "encoding": {
           "x": {"datum": 244.4, "type": "quantitative", "axis": {"orient": "top", "title": "Luminal A", "labels": false, "ticks": false, "titleFontSize": 8.5, "titleColor": "#dcdcdc", "titlePadding": 4}},
           "y": {"datum": 1.04, "type": "quantitative", "title": "Probability", "axis": {"values": [0, 0.2, 0.4, 0.6, 0.8, 1], "format": ".1f", "labelAngle": -90, "labelPadding": 2, "titlePadding": 2, "labelOverlap": false, "labelFontSize": 8}},
           "text": {"field": "stat"}}}
      ]
    },
    {
      "width": 127, "height": 123, "title": {"text": "F"},
      "data": {"name": "km"}, "transform": [{"filter": "datum.p === 'F'"}],
      "resolve": {"axis": {"x": "independent"}},
      "layer": [
        {"mark": {"type": "line", "strokeWidth": 1.1},
         "encoding": {
           "x": {"field": "t", "type": "quantitative", "title": "Time (months)", "scale": {"domain": [-11.2, 291.2], "nice": false, "zero": false}, "axis": {"values": [0, 50, 100, 150, 200, 250], "labelPadding": 1, "titlePadding": 2, "labelOverlap": false}},
           "y": {"field": "s", "type": "quantitative", "title": "Probability", "scale": {"domain": [-0.04, 1.04], "nice": false, "zero": false}, "axis": {"values": [0, 0.2, 0.4, 0.6, 0.8, 1], "format": ".1f", "labelAngle": -90, "labelPadding": 2, "titlePadding": 2, "labelOverlap": false, "labelFontSize": 8}},
           "color": {"field": "g", "type": "nominal", "scale": {"domain": ["low", "high"], "range": ["#a59795", "#14a98c"]}, "legend": {"title": "Expression", "orient": "bottom-left"}}}},
        {"transform": [{"filter": "datum.c === 1"}],
         "mark": {"type": "point", "shape": "M-1,0L1,0M0,-1L0,1", "size": 16, "strokeWidth": 0.9, "filled": false, "opacity": 1},
         "encoding": {
           "x": {"field": "t", "type": "quantitative", "axis": null},
           "y": {"field": "s", "type": "quantitative", "title": "Probability", "axis": {"values": [0, 0.2, 0.4, 0.6, 0.8, 1], "format": ".1f", "labelAngle": -90, "labelPadding": 2, "titlePadding": 2, "labelOverlap": false, "labelFontSize": 8}},
           "color": {"condition": {"test": "datum.g === 'high'", "value": "#38e3e3"}, "value": "#c2b1af"}}},
        {"data": {"name": "stats"}, "transform": [{"filter": "datum.p === 'F'"}],
         "mark": {"type": "text", "align": "right", "baseline": "top", "dx": -3, "dy": 3, "fontSize": 7, "lineHeight": 9, "lineBreak": "\n", "color": "#d8d2ce"},
         "encoding": {
           "x": {"datum": 291.2, "type": "quantitative", "axis": {"orient": "top", "title": "Luminal B", "labels": false, "ticks": false, "titleFontSize": 8.5, "titleColor": "#dcdcdc", "titlePadding": 4}},
           "y": {"datum": 1.04, "type": "quantitative", "title": "Probability", "axis": {"values": [0, 0.2, 0.4, 0.6, 0.8, 1], "format": ".1f", "labelAngle": -90, "labelPadding": 2, "titlePadding": 2, "labelOverlap": false, "labelFontSize": 8}},
           "text": {"field": "stat"}}}
      ]
    },
    {
      "width": 127, "height": 123, "title": {"text": "G"},
      "data": {"name": "km"}, "transform": [{"filter": "datum.p === 'G'"}],
      "resolve": {"axis": {"x": "independent"}},
      "layer": [
        {"mark": {"type": "line", "strokeWidth": 1.1},
         "encoding": {
           "x": {"field": "t", "type": "quantitative", "title": "Time (months)", "scale": {"domain": [-11.2, 291.2], "nice": false, "zero": false}, "axis": {"values": [0, 50, 100, 150, 200, 250], "labelPadding": 1, "titlePadding": 2, "labelOverlap": false}},
           "y": {"field": "s", "type": "quantitative", "title": "Probability", "scale": {"domain": [-0.04, 1.04], "nice": false, "zero": false}, "axis": {"values": [0, 0.2, 0.4, 0.6, 0.8, 1], "format": ".1f", "labelAngle": -90, "labelPadding": 2, "titlePadding": 2, "labelOverlap": false, "labelFontSize": 8}},
           "color": {"field": "g", "type": "nominal", "scale": {"domain": ["low", "high"], "range": ["#a59795", "#14a98c"]}, "legend": {"title": "Expression", "orient": "bottom-left"}}}},
        {"transform": [{"filter": "datum.c === 1"}],
         "mark": {"type": "point", "shape": "M-1,0L1,0M0,-1L0,1", "size": 16, "strokeWidth": 0.9, "filled": false, "opacity": 1},
         "encoding": {
           "x": {"field": "t", "type": "quantitative", "axis": null},
           "y": {"field": "s", "type": "quantitative", "title": "Probability", "axis": {"values": [0, 0.2, 0.4, 0.6, 0.8, 1], "format": ".1f", "labelAngle": -90, "labelPadding": 2, "titlePadding": 2, "labelOverlap": false, "labelFontSize": 8}},
           "color": {"condition": {"test": "datum.g === 'high'", "value": "#38e3e3"}, "value": "#c2b1af"}}},
        {"data": {"name": "stats"}, "transform": [{"filter": "datum.p === 'G'"}],
         "mark": {"type": "text", "align": "right", "baseline": "top", "dx": -3, "dy": 3, "fontSize": 7, "lineHeight": 9, "lineBreak": "\n", "color": "#d8d2ce"},
         "encoding": {
           "x": {"datum": 291.2, "type": "quantitative", "axis": {"orient": "top", "title": "Her2-", "labels": false, "ticks": false, "titleFontSize": 8.5, "titleColor": "#dcdcdc", "titlePadding": 4}},
           "y": {"datum": 1.04, "type": "quantitative", "title": "Probability", "axis": {"values": [0, 0.2, 0.4, 0.6, 0.8, 1], "format": ".1f", "labelAngle": -90, "labelPadding": 2, "titlePadding": 2, "labelOverlap": false, "labelFontSize": 8}},
           "text": {"field": "stat"}}}
      ]
    },
    {
      "width": 127, "height": 123, "title": {"text": "H"},
      "data": {"name": "km"}, "transform": [{"filter": "datum.p === 'H'"}],
      "resolve": {"axis": {"x": "independent"}},
      "layer": [
        {"mark": {"type": "line", "strokeWidth": 1.1},
         "encoding": {
           "x": {"field": "t", "type": "quantitative", "title": "Time (months)", "scale": {"domain": [-7.92, 205.92], "nice": false, "zero": false}, "axis": {"values": [0, 50, 100, 150, 200], "labelPadding": 1, "titlePadding": 2, "labelOverlap": false}},
           "y": {"field": "s", "type": "quantitative", "title": "Probability", "scale": {"domain": [-0.04, 1.04], "nice": false, "zero": false}, "axis": {"values": [0, 0.2, 0.4, 0.6, 0.8, 1], "format": ".1f", "labelAngle": -90, "labelPadding": 2, "titlePadding": 2, "labelOverlap": false, "labelFontSize": 8}},
           "color": {"field": "g", "type": "nominal", "scale": {"domain": ["low", "high"], "range": ["#a59795", "#14a98c"]}, "legend": {"title": "Expression", "orient": "bottom-left"}}}},
        {"transform": [{"filter": "datum.c === 1"}],
         "mark": {"type": "point", "shape": "M-1,0L1,0M0,-1L0,1", "size": 16, "strokeWidth": 0.9, "filled": false, "opacity": 1},
         "encoding": {
           "x": {"field": "t", "type": "quantitative", "axis": null},
           "y": {"field": "s", "type": "quantitative", "title": "Probability", "axis": {"values": [0, 0.2, 0.4, 0.6, 0.8, 1], "format": ".1f", "labelAngle": -90, "labelPadding": 2, "titlePadding": 2, "labelOverlap": false, "labelFontSize": 8}},
           "color": {"condition": {"test": "datum.g === 'high'", "value": "#38e3e3"}, "value": "#c2b1af"}}},
        {"data": {"name": "stats"}, "transform": [{"filter": "datum.p === 'H'"}],
         "mark": {"type": "text", "align": "right", "baseline": "top", "dx": -3, "dy": 3, "fontSize": 7, "lineHeight": 9, "lineBreak": "\n", "color": "#d8d2ce"},
         "encoding": {
           "x": {"datum": 205.92, "type": "quantitative", "axis": {"orient": "top", "title": "Her2+", "labels": false, "ticks": false, "titleFontSize": 8.5, "titleColor": "#dcdcdc", "titlePadding": 4}},
           "y": {"datum": 1.04, "type": "quantitative", "title": "Probability", "axis": {"values": [0, 0.2, 0.4, 0.6, 0.8, 1], "format": ".1f", "labelAngle": -90, "labelPadding": 2, "titlePadding": 2, "labelOverlap": false, "labelFontSize": 8}},
           "text": {"field": "stat"}}}
      ]
    },
    {
      "width": 127, "height": 20, "view": {"stroke": null},
      "title": {"text": "Number at risk", "frame": "group", "dx": -4, "fontSize": 7.5, "fontWeight": "normal", "color": "#d8d2ce", "offset": 0},
      "data": {"name": "risk"}, "transform": [{"filter": "datum.p === 'E'"}],
      "mark": {"type": "text", "fontSize": 7.5, "dy": 2},
      "encoding": {
        "x": {"field": "t", "type": "quantitative", "scale": {"domain": [-9.4, 244.4], "nice": false, "zero": false}, "axis": null},
        "y": {"field": "g", "type": "nominal", "scale": {"domain": ["low", "high"]}, "axis": {"title": null, "ticks": false, "tickSize": 0, "labelPadding": 11, "labelOffset": 2, "labelFontSize": 7.5, "labelColor": {"condition": {"test": "datum.value === 'high'", "value": "#27d3e3"}, "value": "#e6e6e6"}}},
        "text": {"field": "n", "type": "quantitative", "format": "d"},
        "color": {"condition": {"test": "datum.g === 'high'", "value": "#27d3e3"}, "value": "#e6e6e6"}}
    },
    {
      "width": 127, "height": 20, "view": {"stroke": null},
      "title": {"text": "Number at risk", "frame": "group", "dx": -4, "fontSize": 7.5, "fontWeight": "normal", "color": "#d8d2ce", "offset": 0},
      "data": {"name": "risk"}, "transform": [{"filter": "datum.p === 'F'"}],
      "mark": {"type": "text", "fontSize": 7.5, "dy": 2},
      "encoding": {
        "x": {"field": "t", "type": "quantitative", "scale": {"domain": [-11.2, 291.2], "nice": false, "zero": false}, "axis": null},
        "y": {"field": "g", "type": "nominal", "scale": {"domain": ["low", "high"]}, "axis": {"title": null, "ticks": false, "tickSize": 0, "labelPadding": 11, "labelOffset": 2, "labelFontSize": 7.5, "labelColor": {"condition": {"test": "datum.value === 'high'", "value": "#27d3e3"}, "value": "#e6e6e6"}}},
        "text": {"field": "n", "type": "quantitative", "format": "d"},
        "color": {"condition": {"test": "datum.g === 'high'", "value": "#27d3e3"}, "value": "#e6e6e6"}}
    },
    {
      "width": 127, "height": 20, "view": {"stroke": null},
      "title": {"text": "Number at risk", "frame": "group", "dx": -4, "fontSize": 7.5, "fontWeight": "normal", "color": "#d8d2ce", "offset": 0},
      "data": {"name": "risk"}, "transform": [{"filter": "datum.p === 'G'"}],
      "mark": {"type": "text", "fontSize": 7.5, "dy": 2},
      "encoding": {
        "x": {"field": "t", "type": "quantitative", "scale": {"domain": [-11.2, 291.2], "nice": false, "zero": false}, "axis": null},
        "y": {"field": "g", "type": "nominal", "scale": {"domain": ["low", "high"]}, "axis": {"title": null, "ticks": false, "tickSize": 0, "labelPadding": 11, "labelOffset": 2, "labelFontSize": 7.5, "labelColor": {"condition": {"test": "datum.value === 'high'", "value": "#27d3e3"}, "value": "#e6e6e6"}}},
        "text": {"field": "n", "type": "quantitative", "format": "d"},
        "color": {"condition": {"test": "datum.g === 'high'", "value": "#27d3e3"}, "value": "#e6e6e6"}}
    },
    {
      "width": 127, "height": 20, "view": {"stroke": null},
      "title": {"text": "Number at risk", "frame": "group", "dx": -4, "fontSize": 7.5, "fontWeight": "normal", "color": "#d8d2ce", "offset": 0},
      "data": {"name": "risk"}, "transform": [{"filter": "datum.p === 'H'"}],
      "mark": {"type": "text", "fontSize": 7.5, "dy": 2},
      "encoding": {
        "x": {"field": "t", "type": "quantitative", "scale": {"domain": [-7.92, 205.92], "nice": false, "zero": false}, "axis": null},
        "y": {"field": "g", "type": "nominal", "scale": {"domain": ["low", "high"]}, "axis": {"title": null, "ticks": false, "tickSize": 0, "labelPadding": 11, "labelOffset": 2, "labelFontSize": 7.5, "labelColor": {"condition": {"test": "datum.value === 'high'", "value": "#27d3e3"}, "value": "#e6e6e6"}}},
        "text": {"field": "n", "type": "quantitative", "format": "d"},
        "color": {"condition": {"test": "datum.g === 'high'", "value": "#27d3e3"}, "value": "#e6e6e6"}}
    }
  ]
}
